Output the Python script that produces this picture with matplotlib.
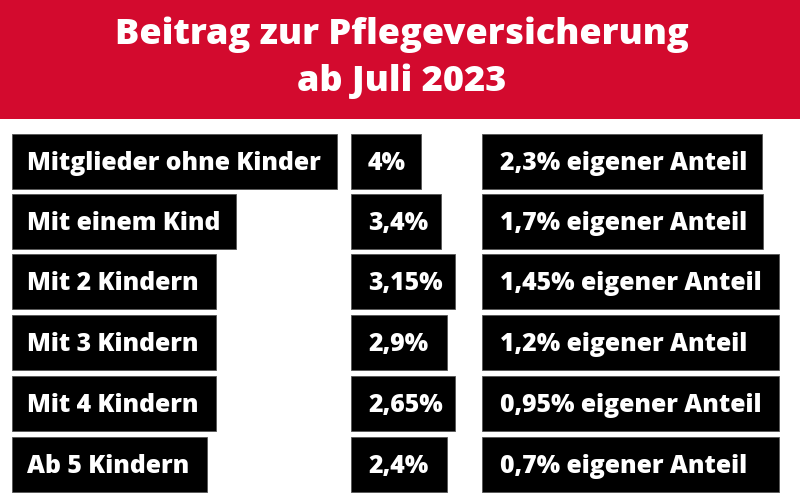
import matplotlib
matplotlib.use("Agg")
import matplotlib.pyplot as plt
from matplotlib.patches import Rectangle

# ---- data ----
title_lines = ["Beitrag zur Pflegeversicherung", "ab Juli 2023"]
categories = ["Mitglieder ohne Kinder", "Mit einem Kind", "Mit 2 Kindern",
              "Mit 3 Kindern", "Mit 4 Kindern", "Ab 5 Kindern"]
beitrag = [4, 3.4, 3.15, 2.9, 2.65, 2.4]
anteil = [2.3, 1.7, 1.45, 1.2, 0.95, 0.7]


def fmt(v):
    s = f"{v:g}".replace(".", ",")
    return s + "%"


beitrag_labels = [fmt(v) for v in beitrag]
anteil_labels = [fmt(v) + " eigener Anteil" for v in anteil]

# ---- layout (pixels) ----
W, H = 800, 500
RED = "#D30A2E"
header_h = 119
row_tops = [134, 194, 254, 315, 376, 437]
row_h = 55
col_left = [12, 351, 482]
text_left = [27, 368, 500]
col_right = [
    [337, 236, 216, 216, 216, 207],
    [421, 441, 455, 447, 455, 447],
    [762, 763, 779, 779, 779, 779],
]
FONT = "Open Sans"

fig = plt.figure(figsize=(8, 5), dpi=100)
ax = fig.add_axes([0, 0, 1, 1])
ax.set_xlim(0, W)
ax.set_ylim(H, 0)
ax.axis("off")
fig.patch.set_facecolor("white")

ax.add_patch(Rectangle((0, 0), W, header_h, facecolor=RED, edgecolor="none"))
ax.text(W / 2 + 2, 35, title_lines[0], ha="center", va="center", color="white",
        fontsize=26, fontweight=800, family=FONT)
ax.text(W / 2 + 2, 82, title_lines[1], ha="center", va="center", color="white",
        fontsize=26, fontweight=800, family=FONT)

columns = [categories, beitrag_labels, anteil_labels]
for c, labels in enumerate(columns):
    for r, lab in enumerate(labels):
        top = row_tops[r]
        ax.add_patch(Rectangle((col_left[c], top), col_right[c][r] - col_left[c], row_h,
                               facecolor="black", edgecolor="#555555", linewidth=0.6))
        ax.text(text_left[c], top + row_h / 2 + 2, lab, ha="left", va="center",
                color="white", fontsize=17.8, fontweight=800, family=FONT)

fig.savefig("out.png", dpi=100, facecolor="white")
